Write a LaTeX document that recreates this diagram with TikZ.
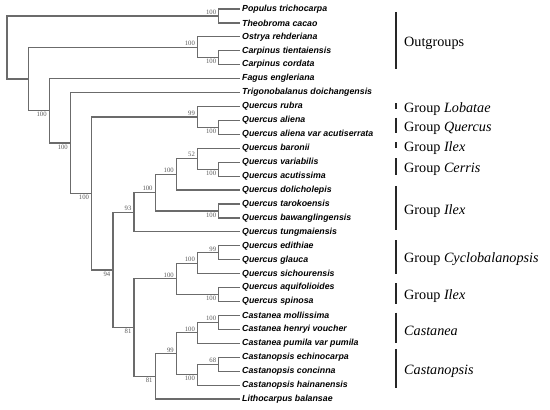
\documentclass[tikz,border=0pt]{standalone}
\usepackage{fontspec}
\setmainfont{Liberation Serif}
\setsansfont{Liberation Sans}
\begin{document}
\begin{tikzpicture}[x=21.18pt,y=-13.93pt]
  \tikzstyle{branch}=[draw=black!58,line width=1.2pt]
  \tikzstyle{taxon}=[anchor=west,inner sep=2pt,font=\sffamily\bfseries\itshape\fontsize{8.8}{9}\selectfont]
  \tikzstyle{bs}=[inner sep=1pt,text=black!65,font=\fontsize{6.7}{7}\selectfont]
  \tikzstyle{up}=[bs,anchor=south east,xshift=-1.5pt,yshift=0.5pt]
  \tikzstyle{dn}=[bs,anchor=north east,xshift=-1.5pt,yshift=-0.5pt]
  \tikzstyle{bar}=[draw=black!85,line width=1.2pt]
  \tikzstyle{grp}=[anchor=west,xshift=5.5pt,yshift=-2.5pt,inner sep=2pt,font=\fontsize{14.2}{15}\selectfont]
  \def\bx{18.37}	% x of group bars
  \useasboundingbox (-0.3305,-0.646) rectangle (25.637,28.715);

  % taxa, one row each
  \node[taxon] (pop)   at (11,0)  {Populus trichocarpa};
  \node[taxon] (theo)  at (11,1)  {Theobroma cacao};
  \node[taxon] (ostr)  at (11,2)  {Ostrya rehderiana};
  \node[taxon] (ctie)  at (11,3)  {Carpinus tientaiensis};
  \node[taxon] (ccor)  at (11,4)  {Carpinus cordata};
  \node[taxon] (fag)   at (11,5)  {Fagus engleriana};
  \node[taxon] (trig)  at (11,6)  {Trigonobalanus doichangensis};
  \node[taxon] (qrub)  at (11,7)  {Quercus rubra};
  \node[taxon] (qali)  at (11,8)  {Quercus aliena};
  \node[taxon] (qalv)  at (11,9)  {Quercus aliena var acutiserrata};
  \node[taxon] (qbar)  at (11,10) {Quercus baronii};
  \node[taxon] (qvar)  at (11,11) {Quercus variabilis};
  \node[taxon] (qacu)  at (11,12) {Quercus acutissima};
  \node[taxon] (qdol)  at (11,13) {Quercus dolicholepis};
  \node[taxon] (qtar)  at (11,14) {Quercus tarokoensis};
  \node[taxon] (qbaw)  at (11,15) {Quercus bawanglingensis};
  \node[taxon] (qtun)  at (11,16) {Quercus tungmaiensis};
  \node[taxon] (qedi)  at (11,17) {Quercus edithiae};
  \node[taxon] (qgla)  at (11,18) {Quercus glauca};
  \node[taxon] (qsic)  at (11,19) {Quercus sichourensis};
  \node[taxon] (qaqu)  at (11,20) {Quercus aquifolioides};
  \node[taxon] (qspi)  at (11,21) {Quercus spinosa};
  \node[taxon] (cmol)  at (11,22) {Castanea mollissima};
  \node[taxon] (chen)  at (11,23) {Castanea henryi voucher};
  \node[taxon] (cpum)  at (11,24) {Castanea pumila var pumila};
  \node[taxon] (cech)  at (11,25) {Castanopsis echinocarpa};
  \node[taxon] (ccon)  at (11,26) {Castanopsis concinna};
  \node[taxon] (chai)  at (11,27) {Castanopsis hainanensis};
  \node[taxon] (lbal)  at (11,28) {Lithocarpus balansae};

  % inner nodes (x = depth, y = mean row of the two children)
  \coordinate (root)    at (0,2.77);
  \coordinate (popth)   at (10,0.5);
  \coordinate (core)    at (1,5.03);
  \coordinate (betul)   at (9,2.75);
  \coordinate (carp)    at (10,3.5);
  \coordinate (fagac)   at (2,7.31);
  \coordinate (trigq)   at (3,9.62);
  \coordinate (quer)    at (4,13.24);
  \coordinate (lobqu)   at (9,7.75);
  \coordinate (alien)   at (10,8.5);
  \coordinate (qcore)   at (5,18.73);
  \coordinate (ilexA)   at (6,14.59);
  \coordinate (ilexB)   at (7,13.19);
  \coordinate (cerr)    at (8,11.875);
  \coordinate (barvar)  at (9,10.75);
  \coordinate (varacu)  at (10,11.5);
  \coordinate (tarbaw)  at (10,14.5);
  \coordinate (cast)    at (6,22.875);
  \coordinate (cycl)    at (8,19.375);
  \coordinate (cyclA)   at (9,18.25);
  \coordinate (edgla)   at (10,17.5);
  \coordinate (aqspi)   at (10,20.5);
  \coordinate (castlit) at (7,26.375);
  \coordinate (castall) at (8,24.75);
  \coordinate (castan)  at (9,23.25);
  \coordinate (molhen)  at (10,22.5);
  \coordinate (castop)  at (9,26.25);
  \coordinate (echcon)  at (10,25.5);

  % branches
  \draw[branch] (popth) -| (root) |- (core);
  \draw[branch] (pop.west) -| (popth) |- (theo.west);
  \draw[branch] (betul) -| (core) |- (fagac);
  \draw[branch] (ostr.west) -| (betul) |- (carp);
  \draw[branch] (ctie.west) -| (carp) |- (ccor.west);
  \draw[branch] (fag.west) -| (fagac) |- (trigq);
  \draw[branch] (trig.west) -| (trigq) |- (quer);
  \draw[branch] (lobqu) -| (quer) |- (qcore);
  \draw[branch] (qrub.west) -| (lobqu) |- (alien);
  \draw[branch] (qali.west) -| (alien) |- (qalv.west);
  \draw[branch] (ilexA) -| (qcore) |- (cast);
  \draw[branch] (ilexB) -| (ilexA) |- (qtun.west);
  \draw[branch] (cerr) -| (ilexB) |- (tarbaw);
  \draw[branch] (barvar) -| (cerr) |- (qdol.west);
  \draw[branch] (qbar.west) -| (barvar) |- (varacu);
  \draw[branch] (qvar.west) -| (varacu) |- (qacu.west);
  \draw[branch] (qtar.west) -| (tarbaw) |- (qbaw.west);
  \draw[branch] (cycl) -| (cast) |- (castlit);
  \draw[branch] (cyclA) -| (cycl) |- (aqspi);
  \draw[branch] (edgla) -| (cyclA) |- (qsic.west);
  \draw[branch] (qedi.west) -| (edgla) |- (qgla.west);
  \draw[branch] (qaqu.west) -| (aqspi) |- (qspi.west);
  \draw[branch] (castall) -| (castlit) |- (lbal.west);
  \draw[branch] (castan) -| (castall) |- (castop);
  \draw[branch] (molhen) -| (castan) |- (cpum.west);
  \draw[branch] (cmol.west) -| (molhen) |- (chen.west);
  \draw[branch] (echcon) -| (castop) |- (chai.west);
  \draw[branch] (cech.west) -| (echcon) |- (ccon.west);

  % bootstrap values
  \node[up] (bpopth)   at (popth)   {100};
  \node[up] (bbetul)   at (betul)   {100};
  \node[dn] (bcarp)    at (carp)    {100};
  \node[dn] (bfagac)   at (fagac)   {100};
  \node[dn] (btrigq)   at (trigq)   {100};
  \node[dn] (bquer)    at (quer)    {100};
  \node[up] (blobqu)   at (lobqu)   {99};
  \node[dn] (balien)   at (alien)   {100};
  \node[dn] (bqcore)   at (qcore)   {94};
  \node[up] (bilexA)   at (ilexA)   {93};
  \node[up] (bilexB)   at (ilexB)   {100};
  \node[up] (bcerr)    at (cerr)    {100};
  \node[up] (bbarvar)  at (barvar)  {52};
  \node[dn] (bvaracu)  at (varacu)  {100};
  \node[dn] (btarbaw)  at (tarbaw)  {100};
  \node[dn] (bcast)    at (cast)    {81};
  \node[up] (bcycl)    at (cycl)    {100};
  \node[up] (bcyclA)   at (cyclA)   {100};
  \node[up] (bedgla)   at (edgla)   {99};
  \node[dn] (baqspi)   at (aqspi)   {100};
  \node[dn] (bcastlit) at (castlit) {81};
  \node[up] (bcastall) at (castall) {99};
  \node[up] (bcastan)  at (castan)  {100};
  \node[up] (bmolhen)  at (molhen)  {100};
  \node[dn] (bcastop)  at (castop)  {100};
  \node[up] (bechcon)  at (echcon)  {68};

  % groups
  \draw[bar] (\bx,0.2)  -- (\bx,4.3)  node[grp,midway] (gout)  {Outgroups};
  \draw[bar] (\bx,6.75) -- (\bx,7.2)  node[grp,midway] (glob)  {Group \textit{Lobatae}};
  \draw[bar] (\bx,7.8)  -- (\bx,8.9)  node[grp,midway] (gquer) {Group \textit{Quercus}};
  \draw[bar] (\bx,9.55) -- (\bx,10.0) node[grp,midway] (gilA)  {Group \textit{Ilex}};
  \draw[bar] (\bx,10.7) -- (\bx,11.9) node[grp,midway] (gcerr) {Group \textit{Cerris}};
  \draw[bar] (\bx,12.7) -- (\bx,15.9) node[grp,midway] (gilB)  {Group \textit{Ilex}};
  \draw[bar] (\bx,16.6) -- (\bx,19.0) node[grp,midway] (gcyc)  {Group \textit{Cyclobalanopsis}};
  \draw[bar] (\bx,19.7) -- (\bx,21.2) node[grp,midway] (gilC)  {Group \textit{Ilex}};
  \draw[bar] (\bx,21.8) -- (\bx,24.0) node[grp,midway] (gcas)  {\textit{Castanea}};
  \draw[bar] (\bx,24.4) -- (\bx,27.2) node[grp,midway] (gcop)  {\textit{Castanopsis}};
\end{tikzpicture}
\end{document}
